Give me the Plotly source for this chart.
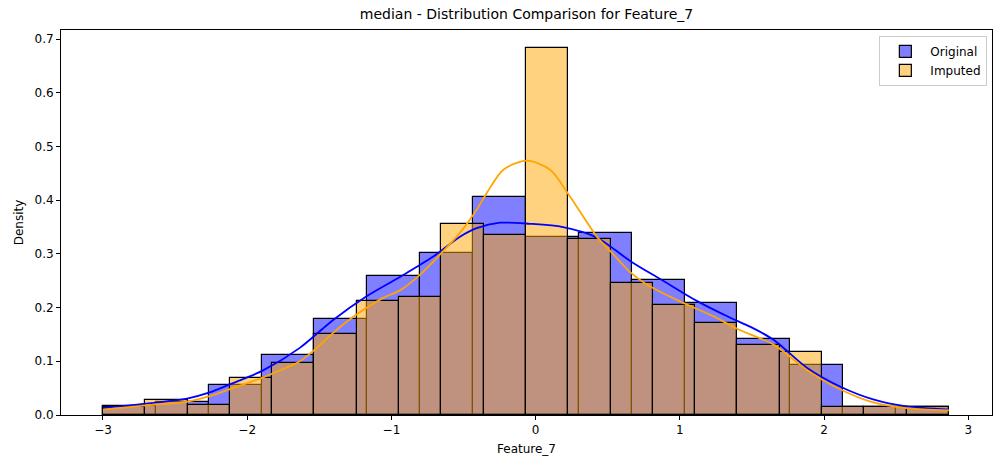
import numpy as np
import plotly.graph_objects as go

# histogram ranges / bins
x_min, x_max = -3.0, 2.865
n_bins_orig, n_bins_imp = 16, 20

orig_density = [0.0165, 0.0235, 0.0558, 0.1117, 0.1790, 0.2585, 0.3016, 0.4052,
                0.3314, 0.3389, 0.2506, 0.2085, 0.1415, 0.0924, 0.0149, 0.0149]
imp_density = [0.0145, 0.0279, 0.0195, 0.0689, 0.0968, 0.1510, 0.2115, 0.2197,
               0.3552, 0.3344, 0.6826, 0.3277, 0.2458, 0.2054, 0.1712, 0.1309,
               0.1173, 0.0149, 0.0149, 0.0149]

# kde curves
kde_orig_x = [-3.0, -2.70, -2.41, -2.26, -2.12, -1.89, -1.635, -1.404, -1.172, -0.941,
              -0.710, -0.525, -0.409, -0.247, -0.04, 0.19, 0.42, 0.66, 0.89, 1.12,
              1.35, 1.49, 1.65, 1.88, 2.11, 2.34, 2.57, 2.865]
kde_orig_y = [0.013, 0.021, 0.031, 0.042, 0.057, 0.083, 0.125, 0.177, 0.221, 0.257,
              0.295, 0.332, 0.348, 0.358, 0.356, 0.350, 0.331, 0.286, 0.249, 0.212,
              0.181, 0.164, 0.140, 0.088, 0.053, 0.029, 0.016, 0.010]

kde_imp_x = [-3.0, -2.70, -2.41, -2.26, -2.12, -1.89, -1.635, -1.53, -1.404, -1.242,
             -1.057, -0.941, -0.803, -0.664, -0.525, -0.409, -0.34, -0.224, -0.062, 0.100,
             0.238, 0.423, 0.539, 0.655, 0.77, 1.00, 1.23, 1.40, 1.65, 1.88,
             2.11, 2.34, 2.57, 2.865]
kde_imp_y = [0.010, 0.018, 0.025, 0.035, 0.048, 0.070, 0.100, 0.122, 0.153, 0.187,
             0.218, 0.232, 0.261, 0.2985, 0.339, 0.382, 0.413, 0.4567, 0.4735, 0.4567,
             0.407, 0.3325, 0.299, 0.266, 0.243, 0.2115, 0.184, 0.160, 0.131, 0.084,
             0.048, 0.0235, 0.013, 0.0086]

x_ticks = [-3, -2, -1, 0, 1, 2, 3]


def bins(n):
    edges = np.linspace(x_min, x_max, n + 1)
    return (edges[:-1] + edges[1:]) / 2, edges[1] - edges[0]


fig = go.Figure()

c_o, w_o = bins(n_bins_orig)
c_i, w_i = bins(n_bins_imp)
fig.add_trace(go.Bar(x=c_o, y=orig_density, width=w_o, name="Original",
                     marker=dict(color="rgba(0,0,255,0.5)", line=dict(color="black", width=1.2))))
fig.add_trace(go.Bar(x=c_i, y=imp_density, width=w_i, name="Imputed",
                     marker=dict(color="rgba(255,165,0,0.5)", line=dict(color="black", width=1.2))))
fig.add_trace(go.Scatter(x=kde_orig_x, y=kde_orig_y, mode="lines",
                         line=dict(color="blue", width=1.8, shape="spline", smoothing=0.8),
                         showlegend=False, hoverinfo="skip"))
fig.add_trace(go.Scatter(x=kde_imp_x, y=kde_imp_y, mode="lines",
                         line=dict(color="orange", width=1.8, shape="spline", smoothing=0.8),
                         showlegend=False, hoverinfo="skip"))

axis = dict(showline=True, mirror=True, linecolor="black", linewidth=1, ticks="outside", ticklen=4,
            tickwidth=1, tickcolor="black", showgrid=False, zeroline=False,
            tickfont=dict(size=12, color="black"))

fig.update_xaxes(axis, range=[-3.291, 3.164], tickvals=x_ticks,
                 title=dict(text="Feature_7", font=dict(size=12, color="black"), standoff=8))
fig.update_yaxes(axis, range=[0, 0.7168], dtick=0.1, tickformat=".1f",
                 title=dict(text="Density", font=dict(size=12, color="black"), standoff=8))

fig.update_layout(
    width=1001, height=468, barmode="overlay", bargap=0,
    template="simple_white", plot_bgcolor="white", paper_bgcolor="white",
    font=dict(family="DejaVu Sans", color="black"),
    margin=dict(l=61, r=9, t=30, b=53),
    title=dict(text="median - Distribution Comparison for Feature_7", x=0.5, xref="paper",
               y=0.97, yref="container", yanchor="middle", font=dict(size=14, color="black")),
    legend=dict(x=0.995, y=0.985, xanchor="right", yanchor="top", bordercolor="#cccccc", borderwidth=1,
                bgcolor="rgba(255,255,255,0.8)", font=dict(size=12), itemwidth=40),
)

fig.write_html("out.html", config={"displayModeBar": False},
               post_script="document.body.style.margin='0';")
